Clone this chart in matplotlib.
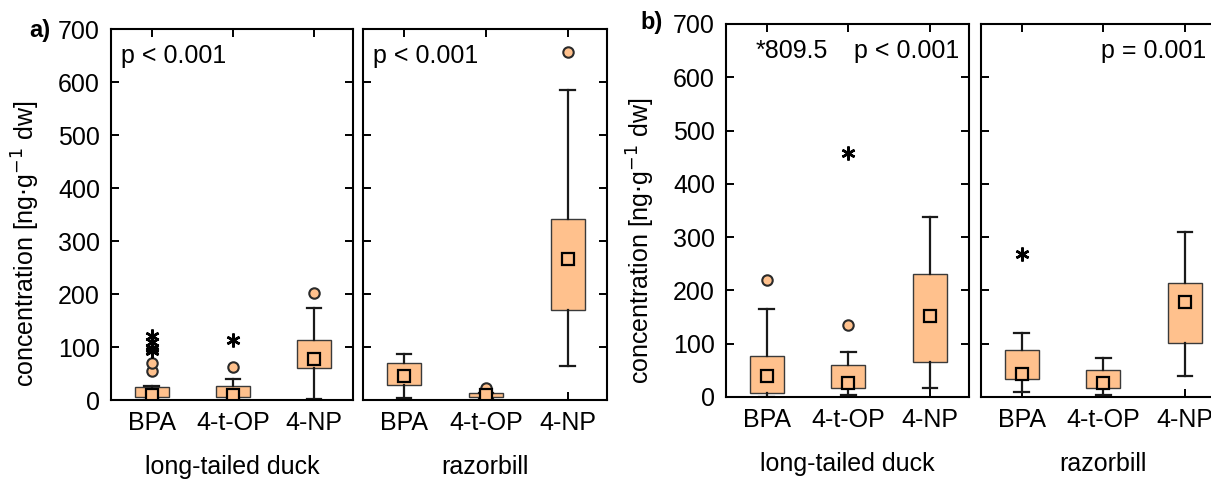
import matplotlib
matplotlib.use('Agg')
import matplotlib.pyplot as plt

plt.rcParams['font.family'] = ['Liberation Sans', 'DejaVu Sans']
plt.rcParams['font.size'] = 18

compounds = ['BPA', '4-t-OP', '4-NP']
species = ['long-tailed duck', 'razorbill']

# box stats per panel: (whisker low, q1, mean, q3, whisker high)
a_duck = [(0, 5, 10, 25, 27), (0, 5, 10, 27, 40), (2, 60, 77, 113, 173)]
a_razor = [(3, 28, 46, 70, 87), (2, 6, 9, 13, 14), (65, 170, 267, 341, 585)]
b_duck = [(0, 8, 40, 76, 166), (3, 17, 26, 60, 85), (17, 66, 152, 230, 338)]
b_razor = [(9, 34, 43, 89, 121), (3, 16, 27, 51, 74), (40, 101, 178, 213, 309)]

# outliers (circles) and extremes (stars), per compound
a_duck_out = [[55, 69], [63], [201]]
a_duck_ext = [[92, 98, 110, 121], [113], []]
a_razor_out = [[], [22], [656]]
a_razor_ext = [[], [], []]
b_duck_out = [[219], [135], []]
b_duck_ext = [[], [457], []]
b_razor_out = [[], [], []]
b_razor_ext = [[269], [], []]

fill = '#FFC18D'

fig = plt.figure(figsize=(12.11, 4.79), dpi=100)


def panel(rect, data, outl, extr, show_y, note_left=None, note_right=None, xlab=''):
    ax = fig.add_axes(rect)
    stats = []
    for (lo, q1, mn, q3, hi), c in zip(data, compounds):
        stats.append(dict(whislo=lo, q1=q1, med=mn, mean=mn, q3=q3, whishi=hi,
                          fliers=[], label=c))
    ax.bxp(stats, positions=[1, 2, 3], widths=0.42, capwidths=0.18,
           patch_artist=True, showmeans=True, showfliers=False,
           boxprops=dict(facecolor=fill, edgecolor='#3a3a3a', linewidth=1),
           whiskerprops=dict(color='#1a1a1a', linewidth=1.6),
           capprops=dict(color='#1a1a1a', linewidth=1.6),
           medianprops=dict(linewidth=0),
           meanprops=dict(marker='s', markersize=8.5, markerfacecolor=fill,
                          markeredgecolor='black', markeredgewidth=1.6))
    for i in range(3):
        if outl[i]:
            ax.plot([i + 1] * len(outl[i]), outl[i], 'o', ms=7.5, mfc=fill,
                    mec='#2a2a2a', mew=1.5, ls='none')
        if extr[i]:
            ax.plot([i + 1] * len(extr[i]), extr[i], marker=(6, 2, 0), ms=10,
                    color='black', mew=1.8, ls='none')
    ax.set_xlim(0.5, 3.48)
    ax.set_ylim(0, 700)
    ax.set_yticks(range(0, 701, 100))
    ax.tick_params(direction='in', top=True, right=True, length=6, width=1.4,
                   labelsize=18, pad=8)
    if not show_y:
        ax.tick_params(labelleft=False)
    else:
        ax.set_ylabel('concentration [ng$\\cdot$g$^{-1}$ dw]', fontsize=18)
        ax.yaxis.set_label_coords(-0.285, 0.42)
    for s in ax.spines.values():
        s.set_linewidth(1.5)
    ax.set_xlabel(xlab, fontsize=18, labelpad=14)
    if note_left:
        ax.text(0.04, 0.96, note_left, transform=ax.transAxes, ha='left', va='top', fontsize=18)
    if note_right:
        ax.text(note_right[1], 0.96, note_right[0], transform=ax.transAxes,
                ha='right', va='top', fontsize=18)
    return ax


panel([0.0917, 0.1649, 0.1998, 0.7745], a_duck, a_duck_out, a_duck_ext, True,
      note_left='p < 0.001', xlab=species[0])
panel([0.2998, 0.1649, 0.2015, 0.7745], a_razor, a_razor_out, a_razor_ext, False,
      note_left='p < 0.001', xlab=species[1])
axb = panel([0.5995, 0.1712, 0.2007, 0.7787], b_duck, b_duck_out, b_duck_ext, True,
            note_right=('p < 0.001', 0.96), xlab=species[0])
axb.text(0.27, 0.96, '*809.5', transform=axb.transAxes, ha='center', va='top', fontsize=18)
panel([0.8101, 0.1712, 0.2007, 0.7787], b_razor, b_razor_out, b_razor_ext, False,
      note_right=('p = 0.001', 0.925), xlab=species[1])

fig.text(0.033, 0.937, 'a)', fontsize=17, fontweight='bold', ha='center', va='center')
fig.text(0.538, 0.952, 'b)', fontsize=17, fontweight='bold', ha='center', va='center')

fig.savefig('out.png', dpi=100)
